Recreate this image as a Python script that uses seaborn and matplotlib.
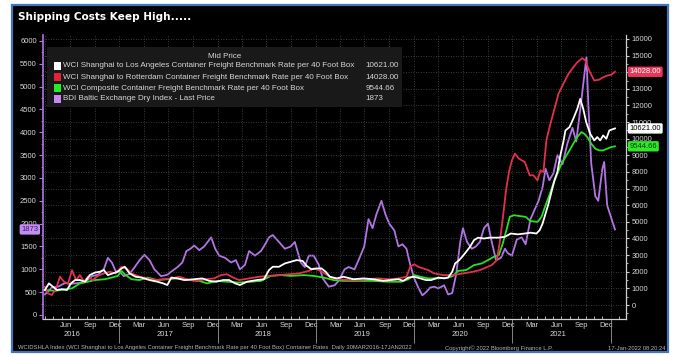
import matplotlib
matplotlib.use("Agg")
import matplotlib.pyplot as plt
import matplotlib.dates as mdates
from matplotlib.patches import Rectangle, FancyBboxPatch
from matplotlib.transforms import blended_transform_factory
import pandas as pd
import seaborn as sns

plt.rcParams["font.family"] = ["Liberation Sans", "DejaVu Sans"]

# ---------------------------------------------------------------- data
bdi_dates = ['2016-03-30','2016-04-25','2016-05-18','2016-06-13','2016-07-01','2016-07-31','2016-08-26','2016-09-21','2016-10-13','2016-11-04','2016-11-19','2016-12-04','2016-12-18',
             '2017-01-02','2017-01-17','2017-02-08','2017-02-27','2017-03-17','2017-04-04','2017-04-23','2017-05-11','2017-06-05','2017-06-28','2017-07-13','2017-08-05','2017-08-23','2017-09-07','2017-09-22','2017-10-06','2017-10-25','2017-11-12','2017-12-08','2017-12-23',
             '2018-01-07','2018-01-29','2018-02-20','2018-03-10','2018-03-25','2018-04-13','2018-04-28','2018-05-20','2018-06-11','2018-06-22','2018-07-11','2018-07-25','2018-08-17','2018-09-08','2018-09-30','2018-10-15','2018-11-06','2018-11-21','2018-12-06','2018-12-24',
             '2019-01-12','2019-01-27','2019-02-18','2019-03-12','2019-03-27','2019-04-18','2019-05-03','2019-05-25','2019-06-09','2019-06-30','2019-07-16','2019-07-31','2019-08-14','2019-09-02','2019-09-17','2019-10-01','2019-10-20','2019-11-04','2019-11-19','2019-12-04','2019-12-18',
             '2020-01-02','2020-01-17','2020-02-01','2020-02-15','2020-03-01','2020-03-16','2020-03-31','2020-04-22','2020-05-07','2020-05-22','2020-06-06','2020-06-21','2020-07-01','2020-07-16','2020-08-03','2020-08-18','2020-09-02','2020-09-17','2020-10-02','2020-10-16','2020-11-01','2020-11-19','2020-12-04','2020-12-15','2020-12-30',
             '2021-01-17','2021-02-04','2021-02-19','2021-03-09','2021-03-24','2021-04-08','2021-04-23','2021-05-04','2021-05-18','2021-06-02','2021-06-17','2021-07-06','2021-07-24','2021-08-12','2021-08-26','2021-09-10','2021-10-03','2021-10-10','2021-10-21','2021-11-05','2021-11-16','2021-12-01','2021-12-08','2021-12-19','2021-12-30',
             '2022-01-17']
bdi_values = [450,600,620,700,680,700,720,850,880,1000,1250,1150,960,
              950,850,900,1050,1200,1320,1200,1000,850,880,950,1050,1150,1400,1450,1520,1420,1500,1700,1450,
              1300,1250,1150,1200,1000,1100,1400,1300,1400,1500,1700,1750,1600,1450,1500,1600,1150,1050,1300,1300,
              1100,800,620,650,750,1000,1050,1000,1200,1500,2100,1900,2200,2500,2200,2000,1850,1500,1550,1450,1100,
              800,600,430,500,600,620,580,650,450,480,900,1600,1900,1600,1450,1500,1600,1900,2000,1600,1200,1250,1450,1350,1300,
              1650,1700,1550,2100,2300,2500,2800,3200,2950,3100,3500,3300,3750,4100,3800,4500,5650,4600,3300,2600,2500,3200,3350,2400,2200,
              1873]

rtm_dates = ['2016-03-30','2016-04-10','2016-04-25','2016-05-11','2016-05-25','2016-06-09','2016-06-24','2016-07-09','2016-07-24','2016-08-07','2016-08-22','2016-09-06','2016-09-24','2016-10-13','2016-11-04','2016-11-26','2016-12-18',
             '2017-01-09','2017-01-28','2017-02-15','2017-03-17','2017-04-15','2017-05-15','2017-06-13','2017-07-13','2017-08-12','2017-09-18','2017-10-18','2017-11-16','2017-12-19',
             '2018-01-14','2018-02-05','2018-02-28','2018-03-22','2018-04-28','2018-06-04','2018-07-11','2018-08-17','2018-09-23','2018-10-30','2018-12-06','2018-12-24',
             '2019-01-12','2019-02-03','2019-02-26','2019-03-27','2019-05-03','2019-06-09','2019-07-16','2019-08-22','2019-09-28','2019-11-04','2019-12-04','2019-12-18',
             '2020-01-02','2020-01-17','2020-02-04','2020-02-23','2020-03-16','2020-04-18','2020-05-25','2020-07-01','2020-08-07','2020-09-02','2020-09-24','2020-10-16','2020-11-04','2020-11-15','2020-11-26','2020-12-08','2020-12-19','2020-12-30',
             '2021-01-10','2021-01-25','2021-02-16','2021-03-06','2021-03-20','2021-04-04','2021-04-15','2021-04-26','2021-05-07','2021-05-22','2021-06-06','2021-06-21','2021-07-09','2021-07-28','2021-08-15','2021-08-30','2021-09-18','2021-09-29','2021-10-13','2021-11-01','2021-11-19','2021-12-04','2021-12-19',
             '2022-01-03','2022-01-17']
rtm_values = [1100,700,600,1000,1700,1400,1300,2100,1500,1800,1400,1700,1500,1750,1900,2000,1900,
              2300,2200,1900,1700,1600,1500,1550,1600,1700,1500,1450,1550,1600,
              1800,1850,1650,1500,1600,1700,1750,1800,1850,1900,2050,2200,
              2100,1900,1650,1550,1500,1500,1550,1600,1550,1600,1700,2300,
              2450,2300,2200,2100,1900,1800,1800,1900,2000,2100,2250,2400,2700,3800,5200,6900,8000,8700,
              9100,8800,8600,7800,7800,7500,8100,8000,9900,10900,11800,12700,13300,13900,14300,14600,14850,14700,14100,13500,13550,13700,13800,
              13850,14028]

la_dates = ['2016-03-30','2016-04-14','2016-04-29','2016-05-14','2016-06-01','2016-06-20','2016-07-05','2016-07-20','2016-08-07','2016-08-26','2016-09-13','2016-10-02','2016-10-20','2016-11-04','2016-11-19','2016-12-07','2016-12-26',
            '2017-01-09','2017-01-21','2017-02-08','2017-03-02','2017-03-24','2017-04-23','2017-05-22','2017-06-13','2017-06-28','2017-07-13','2017-08-05','2017-08-30','2017-10-06','2017-11-05','2017-12-01','2017-12-27',
            '2018-01-22','2018-02-13','2018-03-07','2018-03-25','2018-04-20','2018-05-27','2018-06-22','2018-07-11','2018-07-25','2018-08-17','2018-09-08','2018-09-30','2018-10-22','2018-11-13','2018-11-28','2018-12-16',
            '2019-01-04','2019-01-22','2019-02-07','2019-02-22','2019-03-20','2019-04-14','2019-05-21','2019-06-27','2019-08-03','2019-09-09','2019-10-05','2019-11-04','2019-11-22','2019-12-11',
            '2020-01-02','2020-01-24','2020-02-15','2020-03-05','2020-03-31','2020-04-22','2020-05-07','2020-05-22','2020-06-02','2020-06-17','2020-06-28','2020-07-13','2020-07-27','2020-08-11','2020-08-26','2020-09-17','2020-10-09','2020-11-08','2020-12-04','2020-12-26',
            '2021-01-21','2021-02-16','2021-03-09','2021-03-31','2021-04-12','2021-04-23','2021-05-04','2021-05-15','2021-05-26','2021-06-06','2021-06-17','2021-06-28','2021-07-09','2021-07-17','2021-08-01','2021-08-15','2021-08-30','2021-09-10','2021-09-21','2021-10-02','2021-10-17','2021-11-01','2021-11-12','2021-11-23','2021-12-04','2021-12-16','2021-12-27',
            '2022-01-17']
la_values = [900,1300,1100,900,950,900,1300,1500,1500,1400,1800,1950,2000,2100,1800,1900,2000,
             2200,2300,1900,1700,1650,1500,1400,1300,1200,1650,1600,1500,1550,1600,1450,1400,
             1500,1500,1300,1200,1400,1500,1550,2100,2300,2300,2500,2600,2700,2650,2350,2150,
             2200,2200,2000,1700,1600,1700,1550,1600,1550,1450,1500,1550,1450,1650,
             1700,1600,1500,1500,1650,1600,1650,2000,2500,2700,2900,3200,3500,3900,4050,4000,4050,4050,4100,4300,
             4250,4300,4350,4300,4500,4900,5500,6100,6800,7500,8000,9000,9800,10500,10700,11200,11800,12400,11800,11000,10300,9900,10100,9900,10200,10000,10500,
             10621]

comp_dates = ['2016-03-30','2016-05-07','2016-06-13','2016-07-09','2016-08-07','2016-09-06','2016-10-02','2016-11-08','2016-12-04','2016-12-26',
              '2017-01-09','2017-01-24','2017-02-15','2017-03-17','2017-04-15','2017-05-22','2017-06-28','2017-08-05','2017-09-18','2017-10-25','2017-11-23','2017-12-31',
              '2018-02-05','2018-03-22','2018-05-05','2018-06-11','2018-07-18','2018-08-24','2018-09-30','2018-11-17','2018-12-24',
              '2019-01-30','2019-03-08','2019-04-14','2019-06-09','2019-08-03','2019-09-28','2019-11-15','2019-12-11',
              '2020-01-02','2020-01-24','2020-02-23','2020-03-31','2020-05-07','2020-05-25','2020-06-13','2020-07-13','2020-08-11','2020-09-09','2020-10-02','2020-10-24','2020-11-11','2020-11-26','2020-12-11','2020-12-22',
              '2021-01-06','2021-01-28','2021-02-19','2021-03-09','2021-04-04','2021-04-19','2021-05-04','2021-05-18','2021-06-02','2021-06-17','2021-07-02','2021-07-17','2021-08-01','2021-08-15','2021-08-30','2021-09-14','2021-09-25','2021-10-06','2021-10-21','2021-11-05','2021-11-19','2021-12-04','2021-12-19',
              '2022-01-03','2022-01-17']
comp_values = [900,850,950,1000,1300,1400,1500,1550,1650,1750,
               2050,1800,1550,1500,1650,1500,1550,1600,1500,1450,1300,1450,
               1400,1350,1400,1450,1750,1800,1750,1800,1750,
               1650,1500,1450,1450,1450,1400,1400,1550,
               1800,1700,1600,1600,1650,1750,2050,2100,2400,2500,2700,2900,3000,3700,4600,5300,
               5400,5350,5300,5050,5000,5300,6000,6600,7300,7900,8500,8900,9300,9700,10100,10400,10300,10100,9700,9400,9300,9300,9400,
               9500,9544.66]

series_names = ["WCI Shanghai to Los Angeles Container Freight Benchmark Rate per 40 Foot Box",
                "WCI Shanghai to Rotterdam Container Freight Benchmark Rate per 40 Foot Box",
                "WCI Composite Container Freight Benchmark Rate per 40 Foot Box",
                "BDI Baltic Exchange Dry Index - Last Price"]
last_labels = ["10621.00", "14028.00", "9544.66", "1873"]
month_labels = ["Mar", "Jun", "Sep", "Dec"]
years = [2016, 2017, 2018, 2019, 2020, 2021]

WHITE = "#ffffff"
RED = "#e3304c"
GREEN = "#27e020"
PURPLE = "#b374e6"
GRID = "#4d4d4d"
TXT = "#d6d6d6"

# ---------------------------------------------------------------- figure
fig = plt.figure(figsize=(6.76, 3.56), dpi=100)
fig.patch.set_facecolor("white")
fig.add_artist(Rectangle((12 / 676, 1 - 352 / 356), 656 / 676, 347 / 356,
                         transform=fig.transFigure, facecolor="black",
                         edgecolor="#4673bd", linewidth=1.6, zorder=0))

ax = fig.add_axes([43 / 676, 1 - 319 / 356, 583 / 676, 284 / 356])
ax.set_facecolor("black")
ax2 = ax.twinx()

def frame(d, v):
    return pd.DataFrame({"date": pd.to_datetime(d), "value": v})

sns.lineplot(data=frame(bdi_dates, bdi_values), x="date", y="value", ax=ax,
             color=PURPLE, linewidth=1.3, legend=False)
sns.lineplot(data=frame(comp_dates, comp_values), x="date", y="value", ax=ax2,
             color=GREEN, linewidth=1.3, legend=False, zorder=3)
sns.lineplot(data=frame(rtm_dates, rtm_values), x="date", y="value", ax=ax2,
             color=RED, linewidth=1.3, legend=False, zorder=3)
sns.lineplot(data=frame(la_dates, la_values), x="date", y="value", ax=ax2,
             color=WHITE, linewidth=1.3, legend=False, zorder=4)

for a in (ax, ax2):
    a.set_xlabel("")
    a.set_ylabel("")

ax.set_xlim(pd.Timestamp("2016-03-23"), pd.Timestamp("2022-02-27"))
ax.set_ylim(-88, 6131)
ax2.set_ylim(-842, 16240)

# grid: quarterly verticals, right-axis thousands horizontally
for q in pd.date_range("2016-04-01", "2022-01-01", freq="QS"):
    ax.axvline(q, color=GRID, linestyle=(0, (1, 2)), linewidth=0.6, zorder=0)
right_ticks = list(range(0, 16001, 1000))
ax2.set_yticks(right_ticks, ["" if t == 14000 else str(t) for t in right_ticks])
ax2.yaxis.set_minor_locator(matplotlib.ticker.MultipleLocator(500))
ax2.grid(axis="y", which="major", color=GRID, linestyle=(0, (1, 2)), linewidth=0.6)
ax2.set_axisbelow(True)

# left axis (BDI)
ax.set_yticks(range(0, 6001, 500))
ax.yaxis.set_minor_locator(matplotlib.ticker.MultipleLocator(250))
ax.tick_params(axis="y", which="major", length=3, width=0.8, color=PURPLE,
               labelcolor=TXT, labelsize=5.5, pad=1.5)
ax.tick_params(axis="y", which="minor", length=1.5, width=0.6, color=PURPLE)
ax2.tick_params(axis="y", which="major", length=2.5, width=0.8, color="#cfcfcf",
                labelcolor=TXT, labelsize=5.5, pad=1.5)
ax2.tick_params(axis="y", which="minor", length=1.5, width=0.6, color="#cfcfcf")

for s in ("top", "right"):
    ax.spines[s].set_visible(False)
ax.spines["left"].set_color(PURPLE)
ax.spines["left"].set_linewidth(1.2)
ax.spines["bottom"].set_color("#cfcfcf")
ax.spines["bottom"].set_linewidth(0.9)
for s in ("top", "left", "bottom"):
    ax2.spines[s].set_visible(False)
ax2.spines["right"].set_color("#cfcfcf")
ax2.spines["right"].set_linewidth(0.9)

# x axis: year separators as long major ticks, monthly minor ticks
ax.xaxis.set_major_locator(mdates.YearLocator())
ax.xaxis.set_major_formatter(matplotlib.ticker.NullFormatter())
ax.xaxis.set_minor_locator(mdates.MonthLocator())
ax.tick_params(axis="x", which="major", length=17, width=0.6, color="#9a9a9a", direction="out")
ax.tick_params(axis="x", which="minor", length=2, width=0.6, color="#cfcfcf", direction="in")

label_dates = [d + pd.Timedelta(days=14) for d in
               pd.date_range("2016-06-01", "2021-12-01", freq="3MS")]
sec = ax.secondary_xaxis("bottom")
sec.set_xticks(label_dates, [month_labels[(d.month // 3) - 1] for d in label_dates])
sec.tick_params(length=0, labelsize=5.5, labelcolor=TXT, pad=2)
sec.spines["bottom"].set_visible(False)

year_pos = [pd.Timestamp("2016-07-10")] + [pd.Timestamp(f"{y}-06-20") for y in years[1:]]
sec2 = ax.secondary_xaxis(-0.033)
sec2.set_xticks(year_pos, [str(y) for y in years])
sec2.tick_params(length=0, labelsize=5.5, labelcolor=TXT, pad=2)
sec2.spines["bottom"].set_visible(False)

# last-value tags
tr_r = blended_transform_factory(ax2.transAxes, ax2.transData)
tag_styles = [(la_values[-1], last_labels[0], WHITE, "black"),
              (rtm_values[-1], last_labels[1], "#e8385a", "white"),
              (comp_values[-1], last_labels[2], "#2ee82a", "#0a3a0a")]
for val, txt, fc, tc in tag_styles:
    ax2.text(1.006, val, txt, transform=tr_r, ha="left", va="center",
             fontsize=5.5, color=tc, clip_on=False, zorder=10,
             bbox=dict(boxstyle="round,pad=0.22,rounding_size=0.2", fc=fc, ec="none"))
tr_l = blended_transform_factory(ax.transAxes, ax.transData)
ax.text(-0.008, bdi_values[-1], last_labels[3], transform=tr_l, ha="right", va="center",
        fontsize=5.5, color="#3b1a63", clip_on=False, zorder=10,
        bbox=dict(boxstyle="round,pad=0.22,rounding_size=0.2", fc="#c58cf2", ec="none"))

# legend panel
ax2.add_patch(FancyBboxPatch((0.007, 0.746), 0.609, 0.212, boxstyle="square,pad=0",
                             transform=ax2.transAxes, fc="#1b1b1b", ec="none",
                             alpha=0.95, zorder=8, clip_on=False))
ax2.text(0.312, 0.926, "Mid Price", transform=ax2.transAxes, ha="center", va="center",
         fontsize=5.8, color=TXT, zorder=9)
sq_colors = [WHITE, "#e8203a", "#22ee22", "#c58af0"]
row_y = [0.891, 0.852, 0.813, 0.775]
for name, lab, c, y in zip(series_names, last_labels, sq_colors, row_y):
    ax2.add_patch(Rectangle((0.0189, y - 0.013), 0.012, 0.026, transform=ax2.transAxes,
                            fc=c, ec="none", zorder=9))
    ax2.text(0.0343, y, name, transform=ax2.transAxes, ha="left", va="center",
             fontsize=5.8, color=TXT, zorder=9)
    ax2.text(0.553, y, lab, transform=ax2.transAxes, ha="left", va="center",
             fontsize=5.8, color=TXT, zorder=9)

# title and footer
fig.text(18 / 676, 1 - 17 / 356, "Shipping Costs Keep High.....", fontsize=7.6,
         fontweight="bold", color="white", va="center", family=["DejaVu Sans"])
foot_y = 1 - 348 / 356
fig.text(18 / 676, foot_y, "WCIDSHLA Index (WCI Shanghai to Los Angeles Container Freight Benchmark "
         "Rate per 40 Foot Box) Container Rates  Daily 30MAR2016-17JAN2022",
         fontsize=4.2, color="#b5b5b5", va="center")
fig.text(499 / 676, foot_y, "Copyright\u00a9 2022 Bloomberg Finance L.P.", fontsize=4.2,
         color="#b5b5b5", va="center", ha="center")
fig.text(665 / 676, foot_y, "17-Jan-2022 08:20:24", fontsize=4.2, color="#b5b5b5",
         va="center", ha="right")

fig.savefig("out.png", dpi=100, facecolor=fig.get_facecolor())
